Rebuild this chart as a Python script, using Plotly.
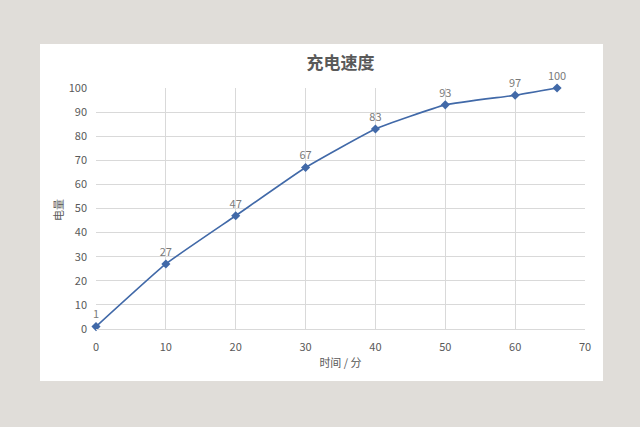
import plotly.graph_objects as go

# charging data
minutes = [0, 10, 20, 30, 40, 50, 60, 66]
battery = [1, 27, 47, 67, 83, 93, 97, 100]
x_ticks = [0, 10, 20, 30, 40, 50, 60, 70]
y_ticks = [0, 10, 20, 30, 40, 50, 60, 70, 80, 90, 100]

font = "Noto Sans CJK SC"
grey = "#595959"

fig = go.Figure()
fig.add_trace(go.Scatter(
    x=minutes, y=battery,
    mode="lines+markers+text",
    text=[str(v) for v in battery],
    textposition="top center",
    textfont=dict(size=11, color="#7a7a7a", family=font),
    line=dict(color="#4169a8", width=1.6, shape="spline", smoothing=0.4),
    marker=dict(symbol="diamond", size=7, color="#4169a8"),
    cliponaxis=False,
))

# white chart card on a soft grey background
fig.add_shape(type="rect", xref="paper", yref="paper",
              x0=-0.1145, x1=1.0368, y0=-0.2158, y1=1.1826,
              fillcolor="white", line=dict(width=0), layer="below")

# y axis title
fig.add_annotation(text="电量", xref="paper", yref="paper", x=-0.0777, y=0.494,
                   xanchor="center", yanchor="middle",
                   textangle=-90, showarrow=False,
                   font=dict(family=font, size=11, color=grey))

fig.update_layout(
    template="none",
    width=640, height=427,
    margin=dict(l=96, r=55, t=88, b=98, autoexpand=False),
    paper_bgcolor="#e0ddd9",
    plot_bgcolor="white",
    showlegend=False,
    title=dict(text="<b>充电速度</b>", x=0.5, xref="paper", xanchor="center",
               y=0.8525, yref="container", yanchor="middle",
               font=dict(family=font, size=17, color=grey)),
    font=dict(family=font, color=grey),
)
fig.update_xaxes(
    range=[0, 70], tickvals=x_ticks, showgrid=True, gridcolor="#d9d9d9",
    zeroline=False, showline=True, linecolor="#d9d9d9", linewidth=1,
    tickfont=dict(size=11, color=grey), ticks="", ticklabelstandoff=8,
    title=dict(text="时间 / 分", font=dict(size=11, color=grey), standoff=6),
)
fig.update_yaxes(
    range=[0, 100], tickvals=y_ticks, showgrid=True, gridcolor="#d9d9d9",
    zeroline=False, showline=False,
    tickfont=dict(size=11, color=grey), ticks="", ticklabelstandoff=8,
)

fig.write_html("out.html", config={"displayModeBar": False},
               post_script="document.body.style.margin='0';")
